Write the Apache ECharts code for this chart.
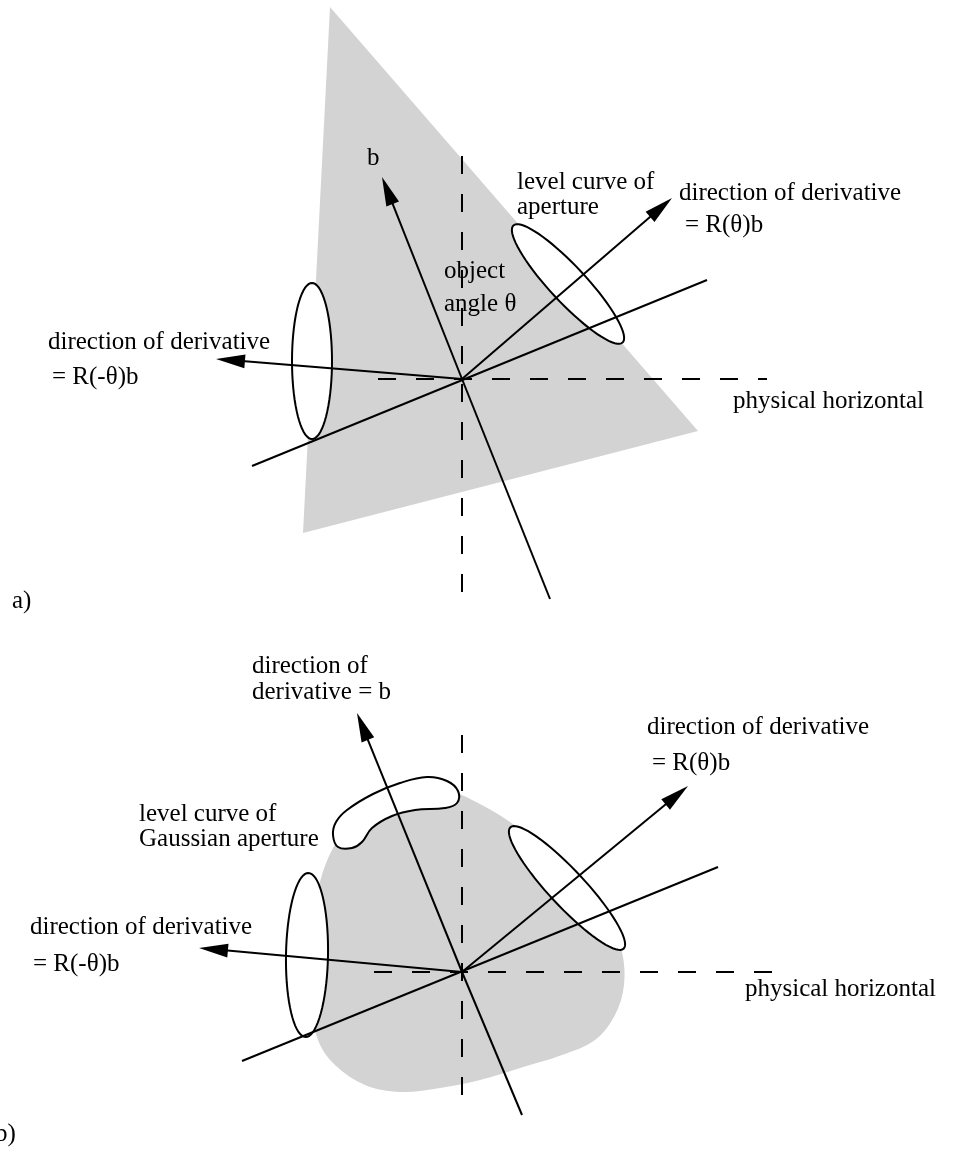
<!DOCTYPE html>
<html><head><meta charset="utf-8">
<script src="https://cdn.jsdelivr.net/npm/echarts@6/dist/echarts.min.js"></script>
<style>html,body{margin:0;padding:0;background:#fff}#c{width:953px;height:1152px}</style>
</head><body><div id="c"></div>
<script>
// ---- data (picture coordinates) ----
const triangleA = [[330,7],[698,431],[303,533]];
const blobB = [[450,792],[480,804],[510,822],[540,845],[565,870],[590,895],[610,922],[622,952],[624,985],[615,1015],[595,1040],[562,1055],[520,1068],[480,1080],[440,1088],[400,1092],[365,1085],[335,1065],[318,1040],[311,1000],[311,960],[314,920],[320,882],[332,850],[350,824],[380,806],[415,796]];
const kidneyB = [[338,847],[333,835],[336,822],[347,810],[373,794],[400,783],[427,777],[447,781],[458,791],[457,803],[445,808],[415,810],[392,816],[372,828],[362,842],[352,848]];
// cx, cy, rx, ry, rotation (deg, clockwise on screen)
const ellipses = [[312,361,20,78,0],[568,284,80,18,47],[307,955,21,82,1],[567,888,83,18,47]];
const dashedLines = [[[462,156],[462,598]],[[378,379],[767,379]],[[462,735],[462,1112]],[[374,972],[781,972]]];
const plainLines = [[[252,466],[707,280]],[[462,379],[550,599]],[[242,1061],[718,867]],[[462,972],[522,1115]]];
const arrows = [[[462,379],[382,177]],[[462,379],[672,198]],[[462,379],[216,359]],[[462,972],[357,713]],[[462,972],[688,786]],[[462,972],[199,948]]];
const labels = [
  [367,158,'b'],
  [517,182,'level curve of'],[517,207,'aperture'],
  [679,193,'direction of derivative'],[685,225,'= R(\u03b8)b'],
  [444,271,'object'],[444,304,'angle \u03b8'],
  [48,342,'direction of derivative'],[52,377,'= R(-\u03b8)b'],
  [733,401,'physical horizontal'],
  [12,601,'a)'],
  [252,666,'direction of'],[252,692,'derivative = b'],
  [647,727,'direction of derivative'],[652,763,'= R(\u03b8)b'],
  [139,814,'level curve of'],[139,839,'Gaussian aperture'],
  [30,927,'direction of derivative'],[33,964,'= R(-\u03b8)b'],
  [745,989,'physical horizontal'],
  [-5,1134,'b)']
];

const FONT = 'Liberation Serif';
const chart = echarts.init(document.getElementById('c'), null, {renderer:'canvas'});

function polySeries(pts, fill, stroke, smooth) {
  return {
    type:'custom', silent:true, data: pts,
    renderItem: function(params, api) {
      if (params.dataIndex !== 0) return null;
      const p = pts.map(q => api.coord(q));
      return {type:'polygon', shape:{points:p, smooth:smooth||0},
        style:{fill:fill, stroke:stroke||null, lineWidth:2}};
    }
  };
}

const series = [];
series.push(polySeries(triangleA, '#d3d3d3', null, 0));
series.push(polySeries(blobB, '#d3d3d3', null, 0.35));
series.push({
  type:'custom', silent:true, data: ellipses.map(e => [e[0], e[1]]),
  renderItem: function(params, api) {
    const e = ellipses[params.dataIndex];
    const A = e[4]*Math.PI/180, pts = [];
    for (let i=0;i<72;i++){
      const t = i/72*2*Math.PI;
      const x = e[0] + e[2]*Math.cos(t)*Math.cos(A) - e[3]*Math.sin(t)*Math.sin(A);
      const y = e[1] + e[2]*Math.cos(t)*Math.sin(A) + e[3]*Math.sin(t)*Math.cos(A);
      pts.push(api.coord([x,y]));
    }
    return {type:'polygon', shape:{points:pts}, style:{fill:'#fff', stroke:'#000', lineWidth:2}};
  }
});
series.push(polySeries(kidneyB, '#fff', '#000', 0.4));
dashedLines.forEach(l => series.push({type:'line', data:l, symbol:'none', silent:true,
  lineStyle:{color:'#000', width:2, type:[18,20]}}));
plainLines.forEach(l => series.push({type:'line', data:l, symbol:'none', silent:true,
  lineStyle:{color:'#000', width:2}}));
series.push({
  type:'custom', silent:true, data: arrows.map(a => a[1]),
  renderItem: function(params, api) {
    const a = arrows[params.dataIndex];
    const T = api.coord(a[0]), P = api.coord(a[1]);
    const dx = P[0]-T[0], dy = P[1]-T[1], len = Math.hypot(dx,dy);
    const ux = dx/len, uy = dy/len, L = 29, W = 6.8;
    const bx = P[0]-ux*L, by = P[1]-uy*L;
    return {type:'group', children:[
      {type:'line', shape:{x1:T[0], y1:T[1], x2:bx+ux*3, y2:by+uy*3}, style:{stroke:'#000', lineWidth:2}},
      {type:'polygon', shape:{points:[P,[bx-uy*W, by+ux*W],[bx+uy*W, by-ux*W]]}, style:{fill:'#000'}}
    ]};
  }
});
series.push({
  type:'custom', silent:true, data: labels.map(l => [l[0], l[1]]),
  renderItem: function(params, api) {
    const l = labels[params.dataIndex];
    const p = api.coord([l[0], l[1]]);
    return {type:'text', x:p[0], y:p[1], style:{text:l[2], fontFamily:FONT, fontSize:25,
      fill:'#000', align:'left', verticalAlign:'middle'}};
  }
});

chart.setOption({
  animation:false,
  grid:{left:0, right:0, top:0, bottom:0},
  xAxis:{type:'value', min:0, max:953, show:false},
  yAxis:{type:'value', min:0, max:1152, inverse:true, show:false},
  series: series
});
</script>
</body></html>
